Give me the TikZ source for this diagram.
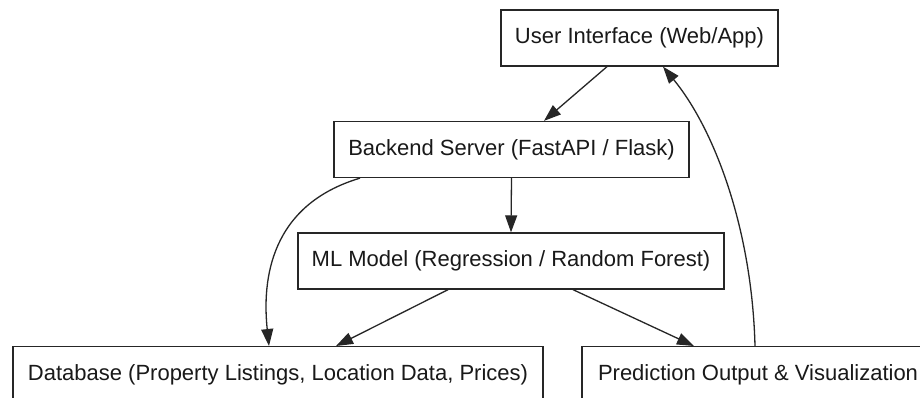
\documentclass[tikz,border=0pt]{standalone}
\usepackage{fontspec}
\setmainfont{Liberation Sans}
\usetikzlibrary{arrows.meta,calc}
\begin{document}
\begin{tikzpicture}[x=1pt,y=-1pt,
  box/.style={draw=black!85, line width=1.3pt, inner sep=0pt, minimum height=56pt,
    font=\fontsize{22}{26}\selectfont, text=black!90},
  conn/.style={draw=black!85, line width=1.3pt, -{Triangle[length=17pt,width=12pt]}}]
\clip (0,0) rectangle (920,398);
\fill[white] (0,0) rectangle (920,398);
\node[box, minimum width=277pt] (ui) at (639.5,38) {User Interface (Web/App)};
\node[box, minimum width=355pt] (be) at (511.5,149.5) {Backend Server (FastAPI / Flask)};
\node[box, minimum width=426pt] (ml) at (511,261) {ML Model (Regression / Random Forest)};
\node[box, minimum width=530pt, anchor=north] (db) at (278,346) {Database (Property Listings, Location Data, Prices)};
\node[box, minimum width=352pt, anchor=north] (pr) at (758,346) {Prediction Output \& Visualization};
\draw[conn] ($(ui.south)+(-32.5,0)$) -- ($(be.north)+(32.5,0)$);
\draw[conn] (be.south) -- (ml.north);
\draw[conn] ($(be.south)+(-151.5,0)$) .. controls (270,205) and (262,280) .. ($(db.north)+(-9,0)$);
\draw[conn] ($(ml.south)+(-63,0)$) -- ($(db.north)+(58,0)$);
\draw[conn] ($(ml.south)+(62,0)$) -- ($(pr.north)+(-64,0)$);
\draw[conn] ($(pr.north)+(-3,0)$) .. controls (752,230) and (715,130) .. ($(ui.south)+(23.5,0)$);
\end{tikzpicture}
\end{document}
